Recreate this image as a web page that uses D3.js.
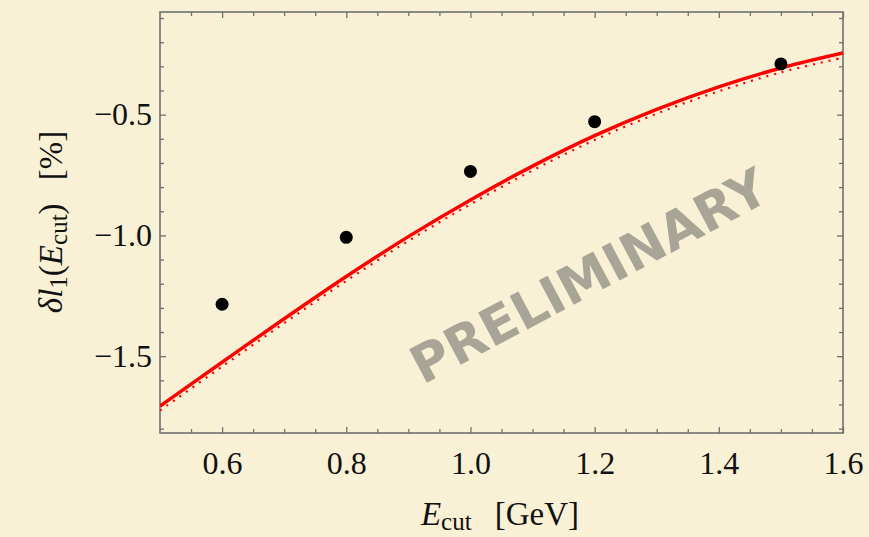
<!DOCTYPE html>
<html>
<head>
<meta charset="utf-8">
<script src="https://cdnjs.cloudflare.com/ajax/libs/d3/7.8.5/d3.min.js"></script>
<style>
  body { margin: 0; background: #f9f1d6; }
  svg { display: block; }
  .tick text { font-family: "Liberation Serif", "Times New Roman", serif; fill: #111; }
</style>
</head>
<body>
<script>
// data
var eCut = [0.6, 0.8, 1.0, 1.2, 1.5];
var deltaPoints = [-1.285, -1.008, -0.735, -0.529, -0.29];

var curveX = [0.5, 0.6, 0.7, 0.8, 0.9, 1.0, 1.1, 1.2, 1.3, 1.4, 1.5, 1.6];
var solidCurve = [-1.707, -1.525, -1.345, -1.170, -1.005, -0.853, -0.713, -0.587, -0.478, -0.385, -0.307, -0.245];
var dottedCurve = [-1.725, -1.543, -1.363, -1.188, -1.023, -0.871, -0.731, -0.605, -0.496, -0.403, -0.325, -0.264];

var xTicks = [0.6, 0.8, 1.0, 1.2, 1.4, 1.6];
var yTicks = [-1.5, -1.0, -0.5];

var W = 869, H = 537;
var plot = {left: 160, right: 843, top: 12, bottom: 433};

var x = d3.scaleLinear().domain([0.5, 1.6]).range([plot.left, plot.right]);
var y = d3.scaleLinear().domain([-1.818, -0.075]).range([plot.bottom, plot.top]);

var svg = d3.select("body").append("svg")
    .attr("width", W)
    .attr("height", H);

svg.append("rect").attr("width", W).attr("height", H).attr("fill", "#f9f1d6");

// minor tick values
var xMinor = d3.range(0.55, 1.6, 0.05).filter(function(v){ return Math.abs(v*10 - Math.round(v*10)) > 0.01 || Math.round(v*10) % 2 == 1; });
var yMinor = d3.range(-1.8, -0.05, 0.1).filter(function(v){ return Math.abs(v*2 - Math.round(v*2)) > 0.01; });

function styleAxis(g) {
    g.select(".domain").remove();
    g.selectAll(".tick line").attr("stroke", "#707070").attr("stroke-width", 1.3);
}

// bottom axis
svg.append("g")
    .attr("transform", "translate(0," + plot.bottom + ")")
    .call(d3.axisBottom(x).tickValues(xTicks).tickSize(-6).tickPadding(12).tickFormat(d3.format(".1f")))
    .call(styleAxis)
    .selectAll("text").style("font-size", "32px").attr("dy", "0.9em");
svg.append("g")
    .attr("transform", "translate(0," + plot.bottom + ")")
    .call(d3.axisBottom(x).tickValues(xMinor).tickSize(-4).tickFormat(""))
    .call(styleAxis);

// top mirror
svg.append("g")
    .attr("transform", "translate(0," + plot.top + ")")
    .call(d3.axisTop(x).tickValues(xTicks).tickSize(-6).tickFormat(""))
    .call(styleAxis);
svg.append("g")
    .attr("transform", "translate(0," + plot.top + ")")
    .call(d3.axisTop(x).tickValues(xMinor).tickSize(-4).tickFormat(""))
    .call(styleAxis);

// left axis
svg.append("g")
    .attr("transform", "translate(" + plot.left + ",0)")
    .call(d3.axisLeft(y).tickValues(yTicks).tickSize(-6).tickPadding(8)
        .tickFormat(function(d){ return "\u2212" + d3.format(".1f")(-d); }))
    .call(styleAxis)
    .selectAll("text").style("font-size", "32px");
svg.append("g")
    .attr("transform", "translate(" + plot.left + ",0)")
    .call(d3.axisLeft(y).tickValues(yMinor).tickSize(-4).tickFormat(""))
    .call(styleAxis);

// right mirror
svg.append("g")
    .attr("transform", "translate(" + plot.right + ",0)")
    .call(d3.axisRight(y).tickValues(yTicks).tickSize(-6).tickFormat(""))
    .call(styleAxis);
svg.append("g")
    .attr("transform", "translate(" + plot.right + ",0)")
    .call(d3.axisRight(y).tickValues(yMinor).tickSize(-4).tickFormat(""))
    .call(styleAxis);

// frame
svg.append("rect")
    .attr("x", plot.left).attr("y", plot.top)
    .attr("width", plot.right - plot.left).attr("height", plot.bottom - plot.top)
    .attr("fill", "none").attr("stroke", "#707070").attr("stroke-width", 1.6);

// watermark
svg.append("text")
    .attr("transform", "translate(589,276) rotate(-28)")
    .attr("text-anchor", "middle")
    .attr("dy", "0.35em")
    .style("font-family", "DejaVu Sans")
    .style("font-weight", "bold")
    .style("font-size", "52px")
    .style("fill", "#a9a596")
    .text("PRELIMINARY");

// curves
var clip = svg.append("clipPath").attr("id", "clip").append("rect")
    .attr("x", plot.left).attr("y", plot.top)
    .attr("width", plot.right - plot.left).attr("height", plot.bottom - plot.top);

var line = d3.line()
    .x(function(d, i){ return x(curveX[i]); })
    .y(function(d){ return y(d); })
    .curve(d3.curveCatmullRom);

svg.append("path")
    .datum(dottedCurve)
    .attr("clip-path", "url(#clip)")
    .attr("d", line)
    .attr("fill", "none")
    .attr("stroke", "#ff0000")
    .attr("stroke-width", 2.2)
    .attr("stroke-dasharray", "2,6");

svg.append("path")
    .datum(solidCurve)
    .attr("clip-path", "url(#clip)")
    .attr("d", line)
    .attr("fill", "none")
    .attr("stroke", "#ff0000")
    .attr("stroke-width", 3.5);

// data points
svg.selectAll(".pt")
    .data(eCut)
    .enter()
    .append("circle")
    .attr("cx", function(d){ return x(d); })
    .attr("cy", function(d, i){ return y(deltaPoints[i]); })
    .attr("r", 6.5)
    .attr("fill", "#000");

// x axis title
var xt = svg.append("text")
    .attr("x", 500).attr("y", 525)
    .attr("text-anchor", "middle")
    .style("font-family", "Liberation Serif, serif")
    .style("font-size", "33px")
    .style("fill", "#111");
xt.append("tspan").style("font-style", "italic").text("E");
xt.append("tspan").attr("dy", 5).style("font-size", "25px").text("cut");
xt.append("tspan").attr("dy", -5).text("\u2002\u2009[GeV]");

// y axis title
var yt = svg.append("text")
    .attr("transform", "translate(62,222) rotate(-90)")
    .attr("text-anchor", "middle")
    .style("font-family", "Liberation Serif, serif")
    .style("font-size", "33px")
    .style("fill", "#111");
yt.append("tspan").style("font-style", "italic").text("\u03b4l");
yt.append("tspan").attr("dy", 5).style("font-size", "25px").text("1");
yt.append("tspan").attr("dy", -5).text("(");
yt.append("tspan").style("font-style", "italic").text("E");
yt.append("tspan").attr("dy", 5).style("font-size", "25px").text("cut");
yt.append("tspan").attr("dy", -5).text(")\u2002\u2009[%]");
</script>
</body>
</html>
